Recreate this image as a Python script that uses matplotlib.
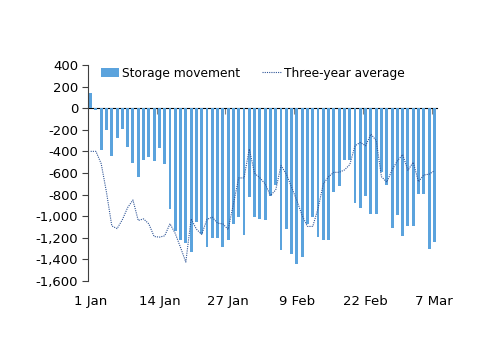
import matplotlib
matplotlib.use("Agg")
import matplotlib.pyplot as plt
from matplotlib.ticker import FuncFormatter

# daily values, 1 Jan .. 7 Mar
days = list(range(66))
storage = [140, -20, -390, -200, -443, -280, -190, -360, -505, -640,
           -483, -452, -492, -372, -517, -935, -1135, -1220, -1250, -1335,
           -1055, -1165, -1288, -1200, -1203, -1286, -1218, -1068, -1009, -1172,
           -825, -1003, -1025, -1034, -810, -711, -1311, -1123, -1354, -1446,
           -1378, -1071, -1003, -1194, -1225, -1225, -780, -720, -480, -480,
           -875, -925, -812, -980, -980, -590, -710, -1105, -990, -1186,
           -1093, -1090, -797, -797, -1305, -1235]
three_year = [-400, -400, -515, -780, -1090, -1115, -1032, -920, -850, -1040,
              -1025, -1071, -1188, -1194, -1182, -1070, -1160, -1290, -1425, -1025,
              -1120, -1168, -1030, -1009, -1065, -1071, -1123, -886, -646, -646,
              -378, -603, -645, -701, -809, -757, -532, -609, -732, -855,
              -994, -1095, -1095, -930, -701, -634, -594, -594, -572, -523,
              -348, -317, -348, -240, -300, -635, -685, -573, -488, -430,
              -576, -501, -681, -619, -611, -580]
tick_days = [0, 13, 26, 39, 52, 65]
tick_labels = ["1 Jan", "14 Jan", "27 Jan", "9 Feb", "22 Feb", "7 Mar"]

plt.rcParams["font.family"] = ["DejaVu Sans"]
plt.rcParams["font.size"] = 9.5

fig = plt.figure(figsize=(5, 3.53), dpi=100)
ax = fig.add_axes([0.176, 0.204, 0.698, 0.612])

bars = ax.bar(days, storage, width=0.55, color="#5BA3DD", label="Storage movement", zorder=2)
line, = ax.plot(days, three_year, color="#2F5597", lw=0.8, linestyle=(0, (1, 1)),
                label="Three-year average", zorder=3)

ax.set_xlim(-0.5, 65.5)
ax.set_ylim(-1600, 400)
ax.set_yticks(range(-1600, 401, 200))
ax.yaxis.set_major_formatter(FuncFormatter(lambda v, p: f"{v:,.0f}"))

ax.set_xticks(tick_days)
ax.set_xticklabels(tick_labels)
ax.tick_params(axis="x", length=0, pad=10)
ax.tick_params(axis="y", length=4, width=0.8, color="#404040", pad=3)

for s in ["top", "right", "bottom"]:
    ax.spines[s].set_visible(False)
ax.spines["left"].set_color("#404040")
ax.spines["left"].set_linewidth(0.8)

# category axis drawn at zero, tick marks between categories
zero = ax.secondary_xaxis(0.8)
zero.set_xticks([12.5, 25.5, 38.5, 51.5, 64.5])
zero.set_xticklabels([])
zero.tick_params(length=4, width=0.8, color="#808080", direction="in")
zero.spines["bottom"].set_color("#909090")
zero.spines["bottom"].set_linewidth(1.2)

fig.legend([bars, line], ["Storage movement", "Three-year average"],
           loc="center", bbox_to_anchor=(0.505, 0.793), ncol=2, frameon=False,
           handlelength=1.5, handletextpad=0.25, columnspacing=1.8, fontsize=8.8)

fig.savefig("out.png", dpi=100)
